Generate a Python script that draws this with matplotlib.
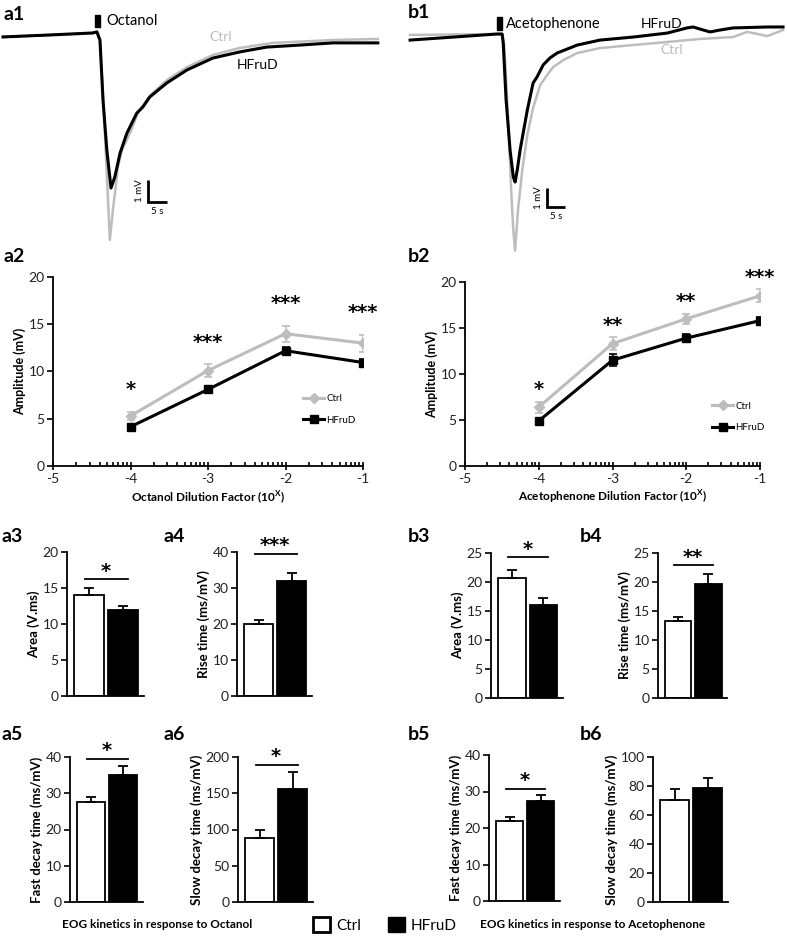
"""EOG traces, dose-response and kinetics panels."""
import matplotlib
matplotlib.use("Agg")
import matplotlib.pyplot as plt
from matplotlib.lines import Line2D
from matplotlib.patches import Patch, Rectangle
import numpy as np

plt.rcParams['font.family'] = ['Lato', 'DejaVu Sans']
plt.rcParams['axes.unicode_minus'] = False
plt.rcParams['mathtext.fontset'] = 'custom'
plt.rcParams['mathtext.rm'] = 'Lato'
plt.rcParams['mathtext.bf'] = 'Lato:bold'

GRAY = '#bdbdbd'
STAR = dict(family='DejaVu Sans', fontweight='bold', fontsize=14)

# --- a1 / b1 : example EOG traces (time in s, voltage in mV) ---
a1_t_ctrl = [-24.7, -12.4, -1.1, 0.0, 0.8, 1.8, 2.6, 3.4, 4.2, 5.0, 5.5, 6.6,
             8.7, 10.8, 13.9, 18.4, 23.7, 30.5, 37.6, 46.3, 62.1, 73.9]
a1_v_ctrl = [-0.18, -0.09, 0.0, 0.05, -0.41, -3.5, -6.45, -9.41, -8.05, -6.91,
             -6.09, -5.32, -4.55, -3.64, -2.86, -2.14, -1.55, -1.0, -0.68,
             -0.45, -0.32, -0.27]
a1_t_hf = [-24.7, -12.4, -1.1, 0.0, 0.8, 1.6, 2.6, 3.7, 4.7, 6.1, 7.9, 9.2,
           10.5, 12.1, 13.9, 18.4, 23.7, 30.5, 37.6, 44.7, 53.4, 62.1, 73.9]
a1_v_hf = [-0.18, -0.09, 0.0, 0.05, -0.32, -3.05, -5.32, -7.05, -6.55, -5.45,
           -4.55, -4.09, -3.64, -3.36, -2.91, -2.27, -1.68, -1.14, -0.86,
           -0.64, -0.55, -0.45, -0.45]

b1_t_ctrl = [-25.6, -1.4, 0.0, 0.6, 1.7, 2.5, 3.1, 3.6, 4.4, 5.6, 7.0, 8.6,
             10.6, 12.5, 14.2, 17.0, 20.9, 27.2, 36.4, 45.9, 55.0, 64.2, 68.1,
             69.8, 73.7, 78.1]
b1_v_ctrl = [-0.05, 0.0, 0.0, -0.58, -4.52, -8.2, -10.3, -11.4, -9.26, -7.16,
             -5.31, -3.89, -2.68, -2.16, -1.74, -1.37, -1.0, -0.74, -0.58,
             -0.42, -0.26, -0.16, 0.11, 0.05, -0.11, 0.21]
b1_t_hf = [-25.6, -1.4, 0.0, 0.3, 1.1, 2.2, 3.1, 3.6, 4.2, 5.0, 7.0, 8.6, 9.7,
           11.4, 13.3, 15.3, 18.1, 20.9, 27.2, 36.4, 45.9, 51.4, 53.1, 55.0,
           57.8, 60.6, 64.2, 73.7, 78.1]
b1_v_hf = [-0.32, 0.0, 0.0, -0.47, -3.47, -6.1, -7.52, -7.79, -7.16, -6.1,
           -4.0, -2.58, -2.26, -1.63, -1.26, -1.0, -0.79, -0.58, -0.32, -0.16,
           0.05, 0.32, 0.37, 0.26, 0.11, 0.21, 0.32, 0.37, 0.37]

# --- a2 / b2 : amplitude vs dilution ---
dil_x = [-4, -3, -2, -1]
oct_ctrl = [5.3, 10.1, 14.0, 13.0]
oct_ctrl_err = [0.45, 0.7, 0.85, 0.9]
oct_hf = [4.15, 8.1, 12.2, 10.95]
oct_hf_err = [0.2, 0.25, 0.4, 0.35]
oct_stars = ['*', '***', '***', '***']

ace_ctrl = [6.4, 13.3, 16.0, 18.5]
ace_ctrl_err = [0.6, 0.7, 0.55, 0.7]
ace_hf = [4.9, 11.5, 13.9, 15.8]
ace_hf_err = [0.15, 0.65, 0.4, 0.35]
ace_stars = ['*', '**', '**', '***']

# --- a3-a6 / b3-b6 : kinetics bars (Ctrl, HFruD) ---
a3_area = [14.05, 12.0]
a3_err = [0.9, 0.55]
a4_rise = [19.95, 31.9]
a4_err = [1.1, 2.4]
a5_fast = [27.5, 35.15]
a5_err = [1.55, 2.3]
a6_slow = [87.9, 156.5]
a6_err = [11.4, 22.9]
b3_area = [20.7, 16.0]
b3_err = [1.45, 1.2]
b4_rise = [13.3, 19.7]
b4_err = [0.75, 1.65]
b5_fast = [21.9, 27.3]
b5_err = [1.0, 1.7]
b6_slow = [70.3, 78.7]
b6_err = [7.3, 6.9]
# significance bracket level and label
sig = {'a3': (16.2, '*'), 'a4': (39.5, '***'), 'a5': (39.5, '*'),
       'a6': (189.5, '*'), 'b3': (24.25, '*'), 'b4': (22.86, '**'),
       'b5': (30.8, '*'), 'b6': (None, None)}

W, H = 787, 939
fig = plt.figure(figsize=(W / 100, H / 100), dpi=100)


def px_axes(x0, y0, x1, y1):
    return fig.add_axes([x0 / W, 1 - y1 / H, (x1 - x0) / W, (y1 - y0) / H])


def trace_panel(rect, xlim, ylim, tc, vc, th, vh, stim, bar_corner):
    ax = px_axes(*rect)
    ax.plot(tc, vc, color=GRAY, lw=1.8, solid_joinstyle='round')
    ax.plot(th, vh, color='black', lw=2.2, solid_joinstyle='round')
    ax.add_patch(Rectangle((stim[0], stim[2]), stim[1] - stim[0],
                           stim[3] - stim[2], color='black'))
    bx, by = bar_corner
    ax.plot([bx, bx, bx + 5], [by + 1, by, by], color='black', lw=2,
            solid_joinstyle='miter', solid_capstyle='butt')
    ax.annotate('1 mV', (bx, by + 0.5), xytext=(-6, 0), textcoords='offset points',
                rotation=90, ha='center', va='center', fontsize=7)
    ax.annotate('5 s', (bx + 2.5, by), xytext=(0, -7), textcoords='offset points',
                ha='center', va='center', fontsize=7)
    ax.set_xlim(xlim)
    ax.set_ylim(ylim)
    ax.axis('off')
    return ax


def dose_panel(rect, ctrl, ctrl_err, hf, hf_err, stars, star_off, xlabel, leg_anchor):
    ax = px_axes(*rect)
    ax.errorbar(dil_x, ctrl, yerr=ctrl_err, color=GRAY, lw=2.2, marker='D', ms=5,
                capsize=3, elinewidth=1.2, capthick=1.2)
    ax.errorbar(dil_x, hf, yerr=hf_err, color='black', lw=2.2, marker='s', ms=6,
                capsize=3, elinewidth=1.2, capthick=1.2)
    for x, y, e, s in zip(dil_x, ctrl, ctrl_err, stars):
        ax.text(x, y + e + star_off, s, ha='center', va='center', **STAR)
    ax.set_xlim(-5, -1)
    ax.set_ylim(0, 20)
    ax.set_xticks([-5, -4, -3, -2, -1])
    ax.set_yticks([0, 5, 10, 15, 20])
    minor = [d + np.log10(k) for d in range(-5, -1) for k in range(2, 10)]
    ax.set_xticks(minor, minor=True)
    ax.tick_params(axis='x', which='major', direction='inout', length=6, width=1.2)
    ax.tick_params(axis='x', which='minor', direction='in', length=3, width=1.2)
    ax.tick_params(axis='y', direction='out', length=4, width=1.2)
    ax.tick_params(labelsize=10, labelcolor='#222222', pad=2)
    for s in ('top', 'right'):
        ax.spines[s].set_visible(False)
    for s in ('left', 'bottom'):
        ax.spines[s].set_linewidth(1.3)
    ax.set_ylabel('Amplitude (mV)', fontsize=9, fontweight='bold', labelpad=2)
    ax.set_xlabel(xlabel, fontsize=8.5, fontweight='bold', labelpad=3)
    handles = [Line2D([], [], color=GRAY, lw=2.2, marker='D', ms=5),
               Line2D([], [], color='black', lw=2.2, marker='s', ms=6)]
    ax.legend(handles, ['Ctrl', 'HFruD'], loc='upper left', bbox_to_anchor=leg_anchor,
              frameon=False, fontsize=7, handlelength=2.2, handletextpad=0.2,
              labelspacing=1.3, borderpad=0, borderaxespad=0)
    return ax


def bar_panel(rect, vals, errs, ymax, ystep, ylabel, key):
    ax = px_axes(*rect)
    ax.bar([0, 1], vals, width=0.88, color=['white', 'black'], edgecolor='black',
           linewidth=1.3)
    ax.errorbar([0, 1], vals, yerr=[[0, 0], errs], fmt='none', ecolor='black',
                elinewidth=1.3, capsize=3.5, capthick=1.3)
    ax.set_xlim(-0.66, 1.62)
    ax.set_ylim(0, ymax)
    ax.set_yticks(np.arange(0, ymax + 1, ystep))
    ax.set_xticks([])
    ax.tick_params(axis='y', direction='out', length=4, width=1.2, labelsize=10,
                   labelcolor='#222222', pad=2)
    for s in ('top', 'right'):
        ax.spines[s].set_visible(False)
    for s in ('left', 'bottom'):
        ax.spines[s].set_linewidth(1.3)
    ax.set_ylabel(ylabel, fontsize=9.5, fontweight='bold', labelpad=2)
    level, mark = sig[key]
    if level is not None:
        ax.plot([-0.12, 1.15], [level, level], color='black', lw=1.3, clip_on=False)
        ax.annotate(mark, (0.5, level), xytext=(0, 6), textcoords='offset points',
                    ha='center', va='center', annotation_clip=False, **STAR)
    return ax


# traces
ax_a1 = trace_panel((0, 0, 390, 245), (-25.5, 77.1), (-9.64, 1.5),
                    a1_t_ctrl, a1_v_ctrl, a1_t_hf, a1_v_hf,
                    (-0.53, 0.79, 0.27, 0.82), (13.4, -7.68))
ax_b1 = trace_panel((400, 0, 787, 255), (-28.4, 79.2), (-11.63, 1.79),
                    b1_t_ctrl, b1_v_ctrl, b1_t_hf, b1_v_hf,
                    (-1.39, 0.0, 0.21, 0.89), (12.5, -9.1))
ax_a1.text(2.4, 0.55, 'Octanol', fontsize=10.5, va='center', ha='left')
ax_a1.text(29.5, -0.2, 'Ctrl', fontsize=10, color=GRAY, va='center', ha='left')
ax_a1.text(36.8, -1.45, 'HFruD', fontsize=10, va='center', ha='left')
ax_b1.text(1.1, 0.53, 'Acetophenone', fontsize=10.5, va='center', ha='left')
ax_b1.text(38.4, 0.53, 'HFruD', fontsize=10, va='center', ha='left')
ax_b1.text(43.9, -0.84, 'Ctrl', fontsize=10, color=GRAY, va='center', ha='left')

# dose-response
dose_panel((53, 277, 363, 466), oct_ctrl, oct_ctrl_err, oct_hf, oct_hf_err,
           oct_stars, 2.3, r'Octanol Dilution Factor (10$^{\mathbf{X}}$)', (0.806, 0.38))
dose_panel((465, 282, 760, 466), ace_ctrl, ace_ctrl_err, ace_hf, ace_hf_err,
           ace_stars, 1.3, r'Acetophenone Dilution Factor (10$^{\mathbf{X}}$)',
           (0.837, 0.35))

# kinetics bars
bar_panel((67, 552, 144, 696), a3_area, a3_err, 20, 5, 'Area (V.ms)', 'a3')
bar_panel((237, 552, 312, 696), a4_rise, a4_err, 40, 10, 'Rise time (ms/mV)', 'a4')
bar_panel((70, 757, 143, 902), a5_fast, a5_err, 40, 10, 'Fast decay time (ms/mV)', 'a5')
bar_panel((238, 757, 313, 902), a6_slow, a6_err, 200, 50, 'Slow decay time (ms/mV)', 'a6')
bar_panel((491, 553, 563, 698), b3_area, b3_err, 25, 5, 'Area (V.ms)', 'b3')
bar_panel((658, 553, 727, 698), b4_rise, b4_err, 25, 5, 'Rise time (ms/mV)', 'b4')
bar_panel((489, 755, 560, 901), b5_fast, b5_err, 40, 10, 'Fast decay time (ms/mV)', 'b5')
bar_panel((653, 757, 728, 902), b6_slow, b6_err, 100, 20, 'Slow decay time (ms/mV)', 'b6')

# panel letters
for lab, x, y in [('a1', 3, 14), ('b1', 408, 12), ('a2', 3, 256), ('b2', 408, 256),
                  ('a3', 2, 536), ('a4', 163, 536), ('b3', 408, 537), ('b4', 580, 537),
                  ('a5', 2, 735), ('a6', 163, 735), ('b5', 408, 735), ('b6', 580, 735)]:
    fig.text(x / W, 1 - y / H, lab, fontsize=14, fontweight='bold', ha='left', va='center')

fig.text(157 / W, 1 - 925 / H, 'EOG kinetics in response to Octanol', ha='center',
         va='center', fontsize=8.5, fontweight='bold')
fig.text(593 / W, 1 - 925 / H, 'EOG kinetics in response to Acetophenone', ha='center',
         va='center', fontsize=8.5, fontweight='bold')
fig.legend([Patch(facecolor='white', edgecolor='black', linewidth=2),
            Patch(facecolor='black', edgecolor='black')], ['Ctrl', 'HFruD'],
           loc='center', bbox_to_anchor=(385 / W, 1 - 925 / H), ncol=2, frameon=False,
           fontsize=11, handlelength=1.1, handleheight=1.1, handletextpad=0.4,
           columnspacing=1.8, borderpad=0)

fig.savefig('out.png', dpi=100)
